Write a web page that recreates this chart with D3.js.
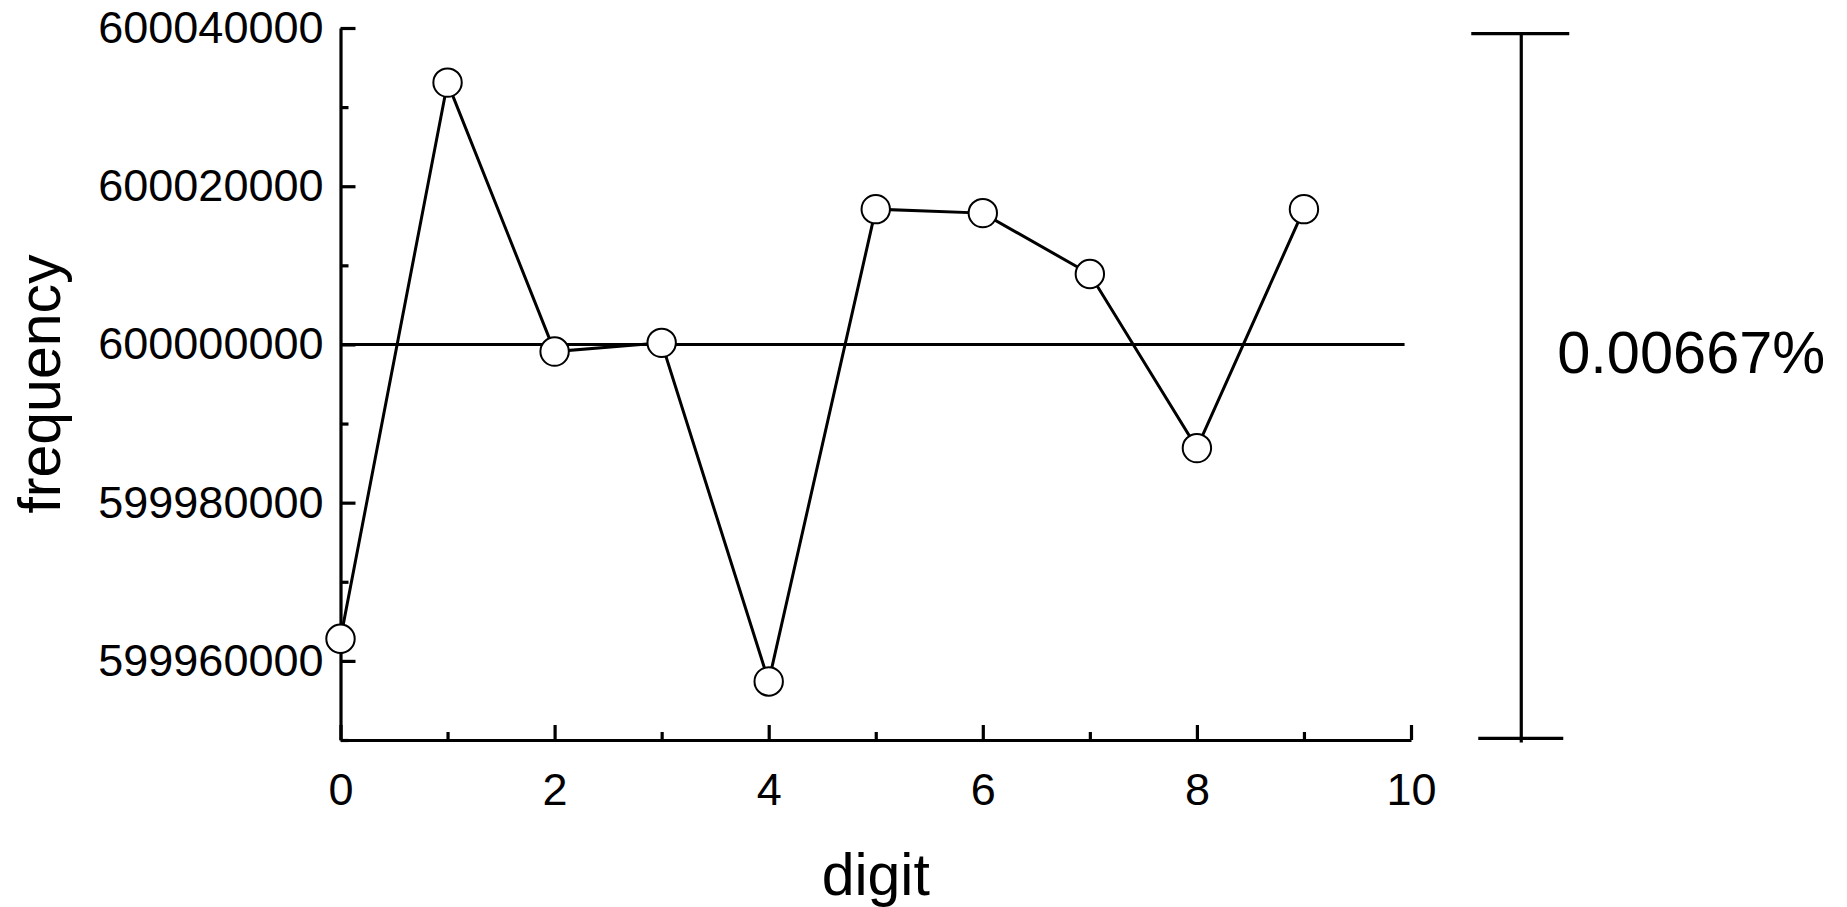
<!DOCTYPE html>
<html>
<head>
<meta charset="utf-8">
<script src="https://cdn.jsdelivr.net/npm/d3@7.9.0/dist/d3.min.js"></script>
<style>
  html, body { margin: 0; padding: 0; background: #fff; }
  svg { display: block; font-family: "Liberation Sans", Arial, sans-serif; }
</style>
</head>
<body>
<svg id="chart" width="1847" height="907"></svg>
<script>
// data
const digits = [0, 1, 2, 3, 4, 5, 6, 7, 8, 9];
const frequency = [599962800, 600033100, 599999100, 600000200, 599957400,
                   600017100, 600016600, 600008900, 599986900, 600017100];
const yMajorTicks = [599960000, 599980000, 600000000, 600020000, 600040000];
const yMinorTicks = [599950000, 599970000, 599990000, 600010000, 600030000];
const xMajorTicks = [0, 2, 4, 6, 8, 10];
const xMinorTicks = [1, 3, 5, 7, 9];
const expected = 600000000;
const refLineSpan = [0, 9.94];
// range bar on the right: position in digit units, top/bottom in frequency
const spanX = 11.03;
const spanValues = [600039300, 599950200];
const spanLabel = "0.00667%";

const svg = d3.select("#chart");

let x = d3.scaleLinear().domain([0, 10]).range([340.5, 1411]);
let y = d3.scaleLinear().domain([599950000, 600040000]).range([740, 28]);

// y axis (ticks pointing inward)
svg.append("g")
    .attr("transform", `translate(${x(0)},0)`)
    .call(d3.axisLeft(y).tickValues(yMinorTicks).tickSize(-8).tickFormat(""))
    .call(g => g.select(".domain").remove());
let yAxis = svg.append("g")
    .attr("transform", `translate(${x(0)},0)`)
    .call(d3.axisLeft(y).tickValues(yMajorTicks).tickSize(-15).tickSizeOuter(0)
        .tickPadding(17).tickFormat(d3.format("d")));
yAxis.selectAll("text").attr("font-size", 45).attr("fill", "#000")
    .attr("font-family", '"Liberation Sans", Arial, sans-serif');

// x axis
svg.append("g")
    .attr("transform", `translate(0,${y(599950000)})`)
    .call(d3.axisBottom(x).tickValues(xMinorTicks).tickSize(-8).tickFormat(""))
    .call(g => g.select(".domain").remove());
let xAxis = svg.append("g")
    .attr("transform", `translate(0,${y(599950000)})`)
    .call(d3.axisBottom(x).tickValues(xMajorTicks).tickSize(-15).tickSizeOuter(0)
        .tickPadding(33).tickFormat(d3.format("d")));
xAxis.selectAll("text").attr("font-size", 45).attr("fill", "#000")
    .attr("font-family", '"Liberation Sans", Arial, sans-serif');

svg.selectAll(".domain").attr("stroke", "#000").attr("stroke-width", 3.2);
svg.selectAll(".tick line").attr("stroke", "#000").attr("stroke-width", 3.2);

// axis titles
svg.append("text")
    .attr("x", (x(0) + x(10)) / 2)
    .attr("y", 895)
    .attr("text-anchor", "middle")
    .attr("font-size", 59)
    .text("digit");
svg.append("text")
    .attr("transform", `translate(60,${(y.range()[0] + y.range()[1]) / 2}) rotate(-90)`)
    .attr("text-anchor", "middle")
    .attr("font-size", 59)
    .text("frequency");

// expected value line
svg.append("line")
    .attr("x1", x(refLineSpan[0]))
    .attr("x2", x(refLineSpan[1]))
    .attr("y1", y(expected))
    .attr("y2", y(expected))
    .attr("stroke", "#000")
    .attr("stroke-width", 3);

// data line + markers
let line = d3.line()
    .x((d, i) => x(digits[i]))
    .y(d => y(d));
svg.append("path")
    .attr("d", line(frequency))
    .attr("fill", "none")
    .attr("stroke", "#000")
    .attr("stroke-width", 3);
svg.selectAll("circle.pt")
    .data(frequency)
    .join("circle")
    .attr("class", "pt")
    .attr("cx", (d, i) => x(digits[i]))
    .attr("cy", d => y(d))
    .attr("r", 14.2)
    .attr("fill", "#fff")
    .attr("stroke", "#000")
    .attr("stroke-width", 2);

// range bar on the right
let bx = x(spanX);
svg.append("line")
    .attr("x1", bx).attr("x2", bx)
    .attr("y1", y(spanValues[0])).attr("y2", y(spanValues[1]) + 4)
    .attr("stroke", "#000").attr("stroke-width", 3.2);
svg.append("line")
    .attr("x1", bx - 50).attr("x2", bx + 48)
    .attr("y1", y(spanValues[0])).attr("y2", y(spanValues[0]))
    .attr("stroke", "#000").attr("stroke-width", 3.2);
svg.append("line")
    .attr("x1", bx - 43).attr("x2", bx + 42)
    .attr("y1", y(spanValues[1])).attr("y2", y(spanValues[1]))
    .attr("stroke", "#000").attr("stroke-width", 3.2);
svg.append("text")
    .attr("x", bx + 36)
    .attr("y", 373)
    .attr("font-size", 59.5)
    .text(spanLabel);
</script>
</body>
</html>
